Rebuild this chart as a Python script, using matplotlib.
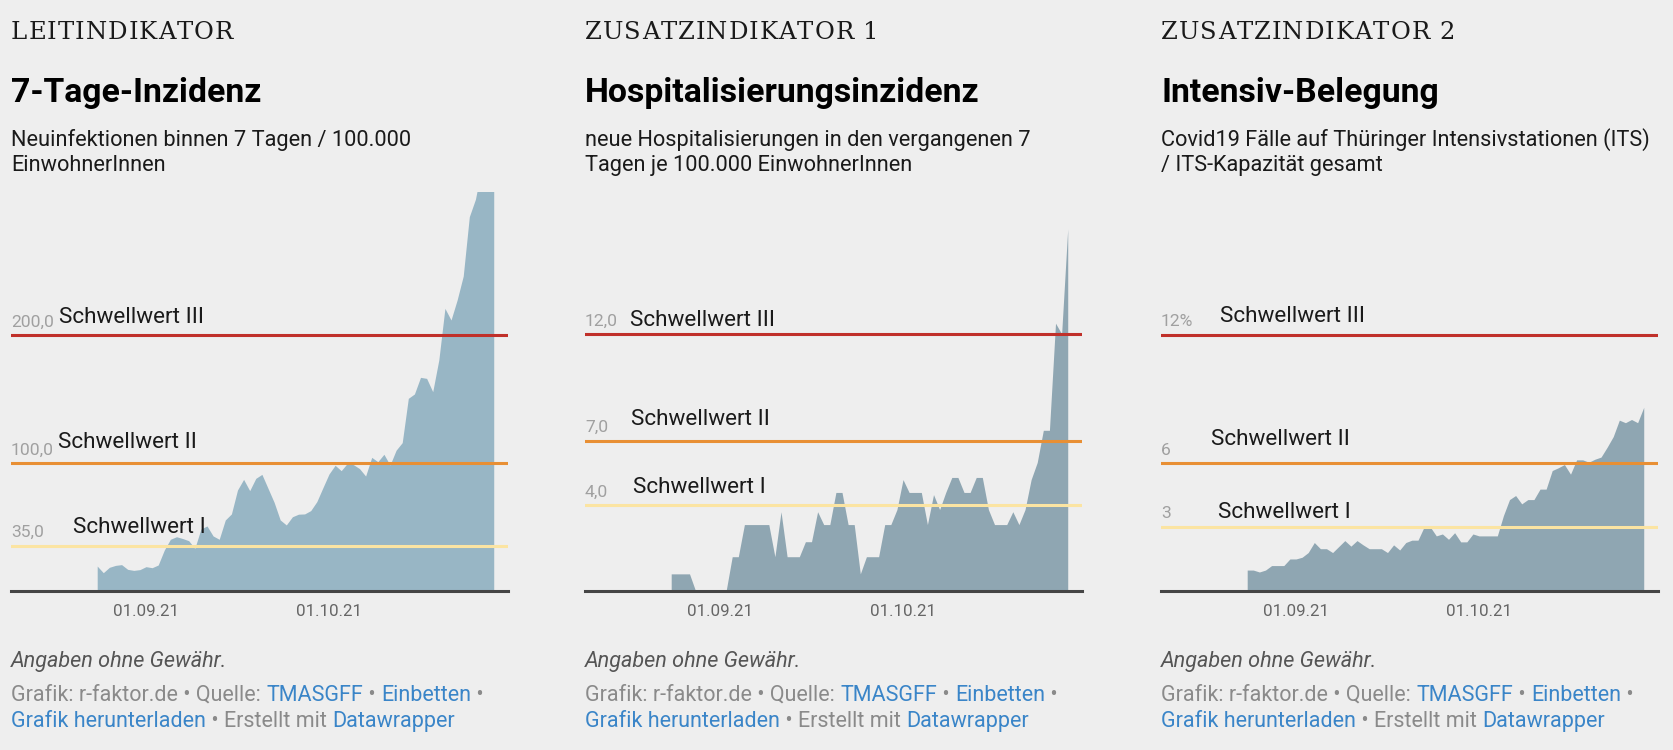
import numpy as np
import pandas as pd
import matplotlib
matplotlib.use('Agg')
import matplotlib.pyplot as plt
import matplotlib.dates as mdates

plt.rcParams['font.family'] = ['Roboto', 'DejaVu Sans']

W, H = 1674, 750
BG = '#eeeeee'

# daily values 24.08.21 - 28.10.21
dates = pd.date_range('2021-08-24', '2021-10-28', freq='D')

inzidenz = [19.5, 14.3, 18.5, 20.0, 20.6, 16.9, 16.1, 16.7, 19.0, 18.2, 20.3,
            32.0, 40.4, 42.4, 41.0, 39.3, 33.3, 48.4, 50.8, 43.0, 40.4, 55.5,
            60.2, 78.9, 87.2, 78.4, 88.0, 91.1, 80.2, 69.3, 55.5, 51.6, 58.0,
            60.0, 60.2, 62.8, 69.8, 80.7, 91.4, 98.2, 94.0, 99.7, 98.7, 95.6,
            89.8, 104.4, 101.0, 106.8, 98.4, 110.0, 115.9, 150.5, 153.9, 166.9,
            166.1, 155.7, 180.5, 220.8, 211.7, 227.3, 246.0, 292.4, 306.0,
            330.0, 345.0, 360.0]

hospitalisierung = [0.8, 0.8, 0.8, 0.8, 0.0, 0.0, 0.0, 0.0, 0.0, 0.0, 1.6,
                    1.6, 3.1, 3.1, 3.1, 3.1, 3.1, 1.6, 3.7, 1.6, 1.6, 1.6,
                    2.3, 2.3, 3.7, 3.1, 3.1, 4.6, 4.6, 3.1, 3.1, 0.8, 1.6,
                    1.6, 1.6, 3.1, 3.1, 3.8, 5.2, 4.6, 4.6, 4.6, 3.1, 4.5,
                    3.8, 4.6, 5.3, 5.3, 4.6, 4.6, 5.3, 5.3, 3.8, 3.1, 3.1,
                    3.1, 3.7, 3.1, 3.8, 5.2, 6.0, 7.5, 7.5, 12.5, 12.0, 16.9]

its_belegung = [0.98, 0.98, 0.89, 0.98, 1.19, 1.19, 1.19, 1.5, 1.5, 1.58, 1.8,
                2.27, 1.98, 1.98, 1.8, 2.08, 2.36, 2.1, 2.36, 2.16, 1.98, 1.98,
                1.98, 1.8, 2.16, 1.92, 2.27, 2.38, 2.38, 3.0, 3.0, 2.58, 2.67,
                2.42, 2.73, 2.3, 2.3, 2.67, 2.58, 2.58, 2.58, 2.58, 3.53, 4.28,
                4.47, 4.08, 4.28, 4.28, 4.77, 4.77, 5.64, 5.77, 5.92, 5.47, 6.14,
                6.14, 6.03, 6.17, 6.27, 6.73, 7.23, 8.0, 7.88, 8.03, 7.88, 8.6]

kicker = ['LEITINDIKATOR', 'ZUSATZINDIKATOR 1', 'ZUSATZINDIKATOR 2']
titles = ['7-Tage-Inzidenz', 'Hospitalisierungsinzidenz', 'Intensiv-Belegung']
subtitles = ['Neuinfektionen binnen 7 Tagen / 100.000\nEinwohnerInnen',
             'neue Hospitalisierungen in den vergangenen 7\nTagen je 100.000 EinwohnerInnen',
             'Covid19 Fälle auf Thüringer Intensivstationen (ITS)\n/ ITS-Kapazität gesamt']
thresholds = [[35, 100, 200], [4, 7, 12], [3, 6, 12]]
threshold_ticks = [['35,0', '100,0', '200,0'], ['4,0', '7,0', '12,0'], ['3', '6', '12%']]
schwellwert = ['Schwellwert I', 'Schwellwert II', 'Schwellwert III']
ymax = [312, 18.64, 18.7]
xticks = ['2021-09-01', '2021-10-01']
xticklabels = ['01.09.21', '01.10.21']

series = [inzidenz, hospitalisierung, its_belegung]
fills = ['#98b6c5', '#8fa6b2', '#8fa6b2']
line_colors = ['#fbe4a2', '#e88f34', '#c0302a']
GRAY = '#8a8a8a'
BLUE = '#3a85c8'

# layout in pixels
lefts = [11, 585, 1161]
ax_w, ax_top, ax_zero = 497, 191.6, 591
xl = (-22.13, 59.34)  # days relative to 01.09.21
tick_dy = [[9, 8, 8], [8.6, 9.6, 7.6], [9, 8, 8.6]]
name_dx = [[62, 47, 48], [48, 46, 45], [57, 50, 59.5]]
name_dy = [[13, 15, 12], [12.6, 15.6, 7.6], [9, 18, 13]]

fig = plt.figure(figsize=(W / 100, H / 100), dpi=100, facecolor=BG)
renderer = fig.canvas.get_renderer()
pt = 0.72  # px -> pt


def run(x, y, parts, size, track=0, **kw):
    # draw text pieces one after another on one baseline
    for s, c in parts:
        t = fig.text(x / W, 1 - y / H, s, color=c, fontsize=size, va='baseline', **kw)
        x += t.get_window_extent(renderer=renderer).width + track
    return x


sep1 = mdates.date2num(pd.Timestamp('2021-09-01'))
for i in range(3):
    x0 = lefts[i]
    ax = fig.add_axes([x0 / W, 1 - ax_zero / H, ax_w / W, (ax_zero - ax_top) / H])
    ax.set_facecolor('none')
    ax.fill_between(dates, 0, series[i], color=fills[i], lw=0, zorder=1)
    ax.set_xlim(sep1 + xl[0], sep1 + xl[1])
    ax.set_ylim(0, ymax[i])
    for j in range(3):
        ax.axhline(thresholds[i][j], color=line_colors[j], lw=2.2, zorder=3)
        ax.annotate(threshold_ticks[i][j], xy=(0, thresholds[i][j]),
                    xycoords=('axes fraction', 'data'),
                    xytext=(0, tick_dy[i][j] * pt), textcoords='offset points',
                    va='baseline', ha='left', fontsize=12.6, color='#a0a0a0')
        ax.annotate(schwellwert[j], xy=(0, thresholds[i][j]),
                    xycoords=('axes fraction', 'data'),
                    xytext=(name_dx[i][j] * pt, name_dy[i][j] * pt),
                    textcoords='offset points',
                    va='baseline', ha='left', fontsize=16.2, color='#1a1a1a')
    ax.axhline(0, color='#454545', lw=2.2, zorder=4, clip_on=False)
    for s in ax.spines.values():
        s.set_visible(False)
    ax.set_yticks([])
    ax.set_xticks(pd.to_datetime(xticks))
    ax.set_xticklabels(xticklabels, fontsize=12.2, color='#666666')
    ax.tick_params(axis='x', length=0, pad=9)

    # header
    run(x0, 39, [(ch, '#1a1a1a') for ch in kicker[i]], 17.5, track=1.0,
        family='DejaVu Serif')
    fig.text(x0 / W, 1 - 101.7 / H, titles[i], fontsize=24.3, fontweight='bold',
             color='#000000', va='baseline')
    for k, line in enumerate(subtitles[i].split('\n')):
        fig.text(x0 / W, 1 - (145.7 + 25 * k) / H, line, fontsize=15.7,
                 color='#1a1a1a', va='baseline')

    # footer
    fig.text(x0 / W, 1 - 666.7 / H, 'Angaben ohne Gewähr.', fontsize=15.6,
             style='italic', color='#555555', va='baseline')
    run(x0, 700.7, [('Grafik: r-faktor.de • Quelle: ', GRAY), ('TMASGFF', BLUE),
                    (' • ', GRAY), ('Einbetten', BLUE), (' •', GRAY)], 15.5)
    run(x0, 727.3, [('Grafik herunterladen', BLUE), (' • Erstellt mit ', GRAY),
                    ('Datawrapper', BLUE)], 15.5)

fig.savefig('out.png', dpi=100, facecolor=BG)
